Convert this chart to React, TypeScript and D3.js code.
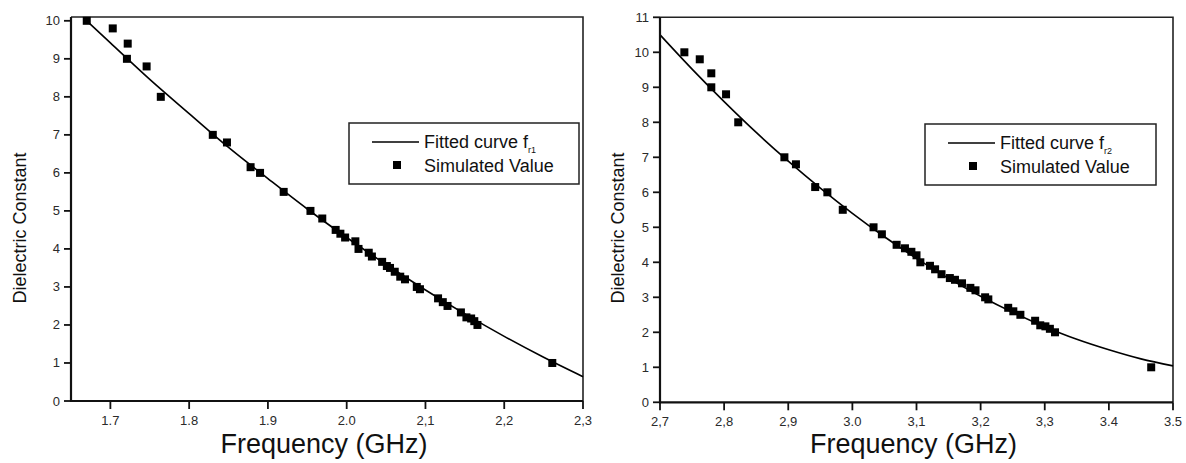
import React from "react";
import * as d3 from "d3";

// ---------- Data ----------
const leftFreq = [1.670, 1.703, 1.722, 1.721, 1.746, 1.764, 1.830, 1.848, 1.878, 1.890, 1.920, 1.954, 1.969, 1.986, 1.992, 1.998, 2.011, 2.015, 2.028, 2.032, 2.045, 2.051, 2.055, 2.061, 2.068, 2.074, 2.089, 2.093, 2.116, 2.122, 2.128, 2.145, 2.152, 2.158, 2.162, 2.166, 2.261];
const leftEps = [10.0, 9.8, 9.4, 9.0, 8.8, 8.0, 7.0, 6.8, 6.15, 6.0, 5.5, 5.0, 4.8, 4.5, 4.4, 4.3, 4.2, 4.0, 3.9, 3.8, 3.66, 3.55, 3.5, 3.4, 3.27, 3.2, 3.0, 2.94, 2.7, 2.6, 2.5, 2.33, 2.2, 2.17, 2.1, 2.0, 1.0];
const leftFitFreq = [1.67, 1.70, 1.75, 1.80, 1.85, 1.90, 1.95, 2.00, 2.05, 2.10, 2.15, 2.20, 2.25, 2.30];
const leftFitEps = [10.0, 9.42, 8.46, 7.56, 6.67, 5.85, 5.05, 4.30, 3.59, 2.92, 2.29, 1.70, 1.15, 0.64];

const rightFreq = [2.738, 2.762, 2.780, 2.780, 2.803, 2.822, 2.894, 2.912, 2.942, 2.961, 2.985, 3.033, 3.046, 3.069, 3.082, 3.092, 3.100, 3.106, 3.121, 3.129, 3.139, 3.152, 3.160, 3.171, 3.184, 3.192, 3.207, 3.212, 3.243, 3.251, 3.262, 3.285, 3.293, 3.301, 3.308, 3.316, 3.466];
const rightEps = [10.0, 9.8, 9.4, 9.0, 8.8, 8.0, 7.0, 6.8, 6.15, 6.0, 5.5, 5.0, 4.8, 4.5, 4.4, 4.3, 4.2, 4.0, 3.9, 3.8, 3.66, 3.55, 3.5, 3.4, 3.27, 3.2, 3.0, 2.94, 2.7, 2.6, 2.5, 2.33, 2.2, 2.17, 2.1, 2.0, 1.0];
const rightFitFreq = [2.70, 2.75, 2.80, 2.85, 2.90, 2.95, 3.00, 3.05, 3.10, 3.15, 3.20, 3.25, 3.30, 3.35, 3.40, 3.45, 3.50];
const rightFitEps = [10.5, 9.52, 8.59, 7.71, 6.89, 6.12, 5.40, 4.73, 4.11, 3.54, 3.03, 2.57, 2.16, 1.80, 1.50, 1.24, 1.04];

const leftXTicks = [1.7, 1.8, 1.9, 2.0, 2.1, 2.2, 2.3];
const leftXTickLabels = ["1.7", "1.8", "1.9", "2.0", "2,1", "2,2", "2,3"];
const leftYTicks = [0, 1, 2, 3, 4, 5, 6, 7, 8, 9, 10];

const rightXTicks = [2.7, 2.8, 2.9, 3.0, 3.1, 3.2, 3.3, 3.4, 3.5];
const rightXTickLabels = ["2,7", "2,8", "2,9", "3.0", "3,1", "3,2", "3,3", "3.4", "3.5"];
const rightYTicks = [0, 1, 2, 3, 4, 5, 6, 7, 8, 9, 10, 11];

const FONT = "'Liberation Sans', Arial, sans-serif";

type PanelProps = {
  x0: number; x1: number; yTop: number; yBottom: number;
  xDomain: [number, number]; yDomain: [number, number];
  xTicks: number[]; xTickLabels: string[]; yTicks: number[];
  freq: number[]; eps: number[]; fitFreq: number[]; fitEps: number[];
  yTitleX: number; xTitleY: number;
  legend: { x: number; y: number; w: number; h: number; sub: string };
};

function Panel(p: PanelProps) {
  const xs = d3.scaleLinear().domain(p.xDomain).range([p.x0, p.x1]);
  const ys = d3.scaleLinear().domain(p.yDomain).range([p.yBottom, p.yTop]);
  const fit = p.fitFreq.map((f, i) => [f, p.fitEps[i]] as [number, number]);
  const line = d3.line<[number, number]>().x(d => xs(d[0])).y(d => ys(d[1])).curve(d3.curveMonotoneX);
  const ms = 8;
  const lg = p.legend;
  const yMid = 228;
  return (
    <g>
      {/* frame top/right */}
      <path d={`M${p.x0},${p.yTop}H${p.x1}V${p.yBottom}`} fill="none" stroke="#222" strokeWidth={1.6} />
      {/* fitted curve */}
      <path d={line(fit) || ""} fill="none" stroke="#000" strokeWidth={1.6} />
      {/* markers */}
      {p.freq.map((f, i) => (
        <rect key={i} x={xs(f) - ms / 2} y={ys(p.eps[i]) - ms / 2} width={ms} height={ms} fill="#000" />
      ))}
      {/* axes */}
      <line x1={p.x0} x2={p.x0} y1={p.yTop} y2={p.yBottom + 1} stroke="#111" strokeWidth={2.2} />
      <line x1={p.x0 - 1} x2={p.x1} y1={p.yBottom} y2={p.yBottom} stroke="#111" strokeWidth={2.2} />
      {p.yTicks.map(t => (
        <g key={"y" + t}>
          <line x1={p.x0 - 7} x2={p.x0} y1={ys(t)} y2={ys(t)} stroke="#111" strokeWidth={1.8} />
          <text x={p.x0 - 11} y={ys(t) + 4.5} textAnchor="end" fontSize={13} fill="#2a2a2a" fontFamily={FONT}>{t}</text>
        </g>
      ))}
      {p.xTicks.map((t, i) => (
        <g key={"x" + t}>
          <line x1={xs(t)} x2={xs(t)} y1={p.yBottom} y2={p.yBottom + 8} stroke="#111" strokeWidth={1.8} />
          <text x={xs(t)} y={p.yBottom + 23.5} textAnchor="middle" fontSize={13} fill="#2a2a2a" fontFamily={FONT}>{p.xTickLabels[i]}</text>
        </g>
      ))}
      {/* axis titles */}
      <text transform={`translate(${p.yTitleX},${yMid}) rotate(-90)`} textAnchor="middle" fontSize={18} fill="#111" fontFamily={FONT}>Dielectric Constant</text>
      <text x={(p.x0 + p.x1) / 2 - 3} y={p.xTitleY} textAnchor="middle" fontSize={27} fill="#111" fontFamily={FONT}>Frequency (GHz)</text>
      {/* legend */}
      <rect x={lg.x} y={lg.y} width={lg.w} height={lg.h} fill="#fff" stroke="#222" strokeWidth={1.5} />
      <line x1={lg.x + 23} x2={lg.x + 70} y1={lg.y + 19} y2={lg.y + 19} stroke="#000" strokeWidth={1.6} />
      <text x={lg.x + 75} y={lg.y + 24.5} fontSize={18} fill="#111" fontFamily={FONT}>
        Fitted curve f<tspan fontSize={9} dy={5}>{lg.sub}</tspan>
      </text>
      <rect x={lg.x + 48 - 4} y={lg.y + 42 - 4} width={8} height={8} fill="#000" />
      <text x={lg.x + 75} y={lg.y + 49} fontSize={18} fill="#111" fontFamily={FONT}>Simulated Value</text>
    </g>
  );
}

export default function App() {
  return (
    <svg width={1186} height={463} style={{ position: "absolute", left: 0, top: 0, background: "#fff" }}>
      <rect width={1186} height={463} fill="#fff" />
      <Panel
        x0={71} x1={583} yTop={17} yBottom={401}
        xDomain={[1.65, 2.3]} yDomain={[0, 10.1]}
        xTicks={leftXTicks} xTickLabels={leftXTickLabels} yTicks={leftYTicks}
        freq={leftFreq} eps={leftEps} fitFreq={leftFitFreq} fitEps={leftFitEps}
        yTitleX={26} xTitleY={453}
        legend={{ x: 349, y: 123, w: 230, h: 61, sub: "r1" }}
      />
      <Panel
        x0={660} x1={1173} yTop={17.3} yBottom={402.3}
        xDomain={[2.7, 3.5]} yDomain={[0, 11]}
        xTicks={rightXTicks} xTickLabels={rightXTickLabels} yTicks={rightYTicks}
        freq={rightFreq} eps={rightEps} fitFreq={rightFitFreq} fitEps={rightFitEps}
        yTitleX={624} xTitleY={453}
        legend={{ x: 925, y: 124, w: 231, h: 61, sub: "r2" }}
      />
    </svg>
  );
}
